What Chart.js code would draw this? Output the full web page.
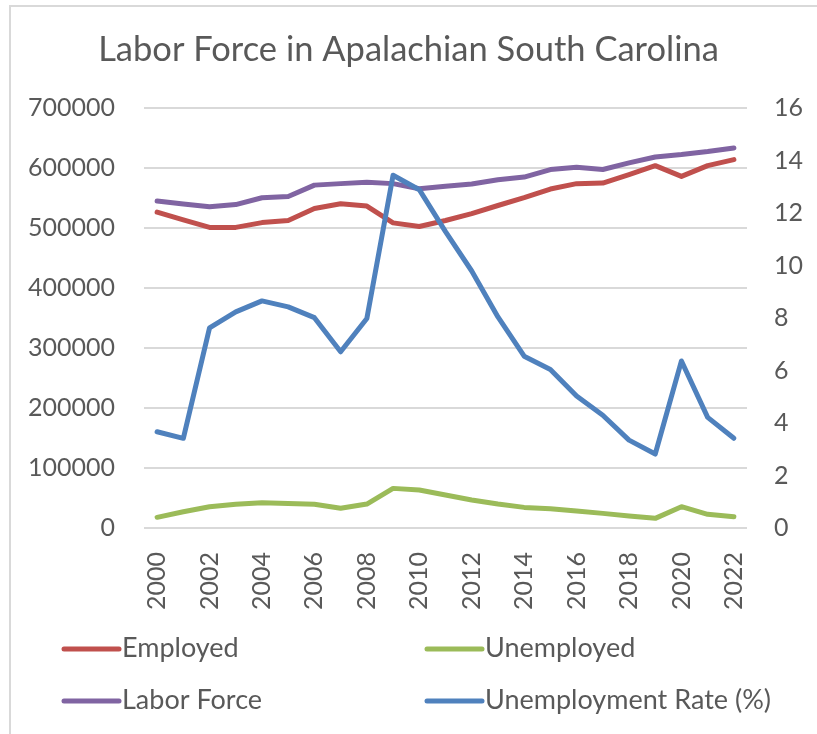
<!DOCTYPE html>
<html>
<head>
<meta charset="utf-8">
<script src="https://cdn.jsdelivr.net/npm/chart.js@4.4.0/dist/chart.umd.min.js"></script>
<style>
  html, body { margin: 0; padding: 0; background: #fff; overflow: hidden; }
  #wrap { position: relative; width: 817px; height: 734px; overflow: hidden; }
  #frame { position: absolute; left: 9px; top: 5px; width: 1000px; height: 1000px; border: 2px solid #d9d9d9; box-sizing: border-box; }
  canvas { position: absolute; left: 0; top: 0; }
</style>
</head>
<body>
<div id="wrap">
  <div id="frame"></div>
  <canvas id="myChart" width="817" height="734"></canvas>
</div>
<script>
const years = ["2000","2001","2002","2003","2004","2005","2006","2007","2008","2009","2010","2011",
  "2012","2013","2014","2015","2016","2017","2018","2019","2020","2021","2022"];

const employed = [527000, 514000, 501500, 501500, 509500, 513000, 533000, 541000, 537000, 509000, 503000, 513000,
  524500, 538000, 551000, 565500, 574500, 575500, 589500, 604500, 586500, 604500, 614500];

const unemployed = [17800, 27200, 35500, 39500, 42200, 41000, 39500, 32800, 40000, 66100, 63300, 55000,
  46700, 40000, 34400, 32200, 28300, 24400, 20000, 16100, 35500, 22800, 18900];

const laborForce = [545500, 540500, 536000, 539500, 551000, 553000, 572000, 574500, 577000, 574500, 566000, 570000,
  574000, 581000, 585500, 598000, 602000, 598000, 609000, 619000, 623000, 628000, 634000];

const unemploymentRate = [3.67, 3.42, 7.63, 8.24, 8.66, 8.43, 8.02, 6.72, 7.99, 13.45, 12.90, 11.3,
  9.8, 8.05, 6.55, 6.04, 5.03, 4.30, 3.35, 2.82, 6.37, 4.22, 3.42];

const titleText = "Labor Force in Apalachian South Carolina";
const textColor = "#595959";
const fontName = "Lato";

function lineSet(label, data, color, axis, order) {
  return {
    label: label,
    data: data,
    yAxisID: axis,
    borderColor: color,
    backgroundColor: color,
    borderWidth: 5,
    borderCapStyle: "round",
    borderJoinStyle: "round",
    pointRadius: 0,
    tension: 0,
    order: order
  };
}

// legend in two columns like the original, drawn below the axis
const twoColLegend = {
  id: "twoColLegend",
  afterDraw(chart) {
    const ctx = chart.ctx;
    const base = chart.chartArea.bottom;
    const cols = [64, 427];
    const rows = [base + 121, base + 173];
    ctx.save();
    ctx.font = "27px " + fontName;
    ctx.textBaseline = "middle";
    chart.data.datasets.forEach((ds, i) => {
      const x = cols[i % 2];
      const y = rows[Math.floor(i / 2)];
      ctx.strokeStyle = ds.borderColor;
      ctx.lineWidth = 5;
      ctx.lineCap = "round";
      ctx.beginPath();
      ctx.moveTo(x, y);
      ctx.lineTo(x + 55, y);
      ctx.stroke();
      ctx.fillStyle = textColor;
      ctx.fillText(ds.label, x + 58, y - 1);
    });
    ctx.restore();
  }
};

const config = {
  type: "line",
  data: {
    labels: years,
    datasets: [
      lineSet("Employed", employed, "#C0504D", "y", 4),
      lineSet("Unemployed", unemployed, "#9BBB59", "y", 3),
      lineSet("Labor Force", laborForce, "#8064A2", "y", 2),
      lineSet("Unemployment Rate (%)", unemploymentRate, "#4F81BD", "y1", 1)
    ]
  },
  options: {
    responsive: false,
    animation: false,
    layout: { padding: { left: 0, right: 0, top: 0, bottom: 116 } },
    plugins: {
      legend: { display: false },
      tooltip: { enabled: false },
      title: {
        display: true,
        text: titleText,
        color: textColor,
        font: { family: fontName, size: 34.5, weight: "normal" },
        padding: { top: 29, bottom: 38 }
      }
    },
    scales: {
      x: {
        offset: true,
        grid: { display: false },
        border: { display: false },
        ticks: {
          color: textColor,
          font: { family: fontName, size: 25 },
          autoSkip: false,
          minRotation: 90,
          maxRotation: 90,
          padding: 16,
          callback: function (val, i) { return i % 2 === 0 ? years[i] : ""; }
        },
        afterFit: function (scale) { scale.height = 90; }
      },
      y: {
        position: "left",
        min: 0,
        max: 700000,
        grid: { color: "#d9d9d9", lineWidth: 2, drawTicks: false },
        border: { display: false },
        ticks: {
          stepSize: 100000,
          color: textColor,
          font: { family: fontName, size: 25 },
          padding: 29,
          callback: function (val) { return String(val); }
        },
        afterFit: function (scale) { scale.width = 144; }
      },
      y1: {
        position: "right",
        min: 0,
        max: 16,
        grid: { display: false, drawTicks: false },
        border: { display: false },
        ticks: {
          stepSize: 2,
          color: textColor,
          font: { family: fontName, size: 25 },
          padding: 27
        },
        afterFit: function (scale) { scale.width = 70; }
      }
    }
  },
  plugins: [twoColLegend]
};

const chartDOM = document.getElementById("myChart");
const myChart = new Chart(chartDOM, config);
</script>
</body>
</html>
